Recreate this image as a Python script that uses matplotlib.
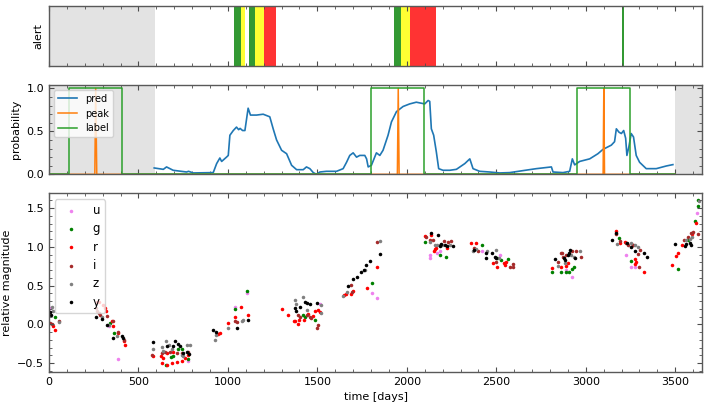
import numpy as np
import matplotlib
matplotlib.use("Agg")
import matplotlib.pyplot as plt
from matplotlib.ticker import MultipleLocator

# ---- data ----
# alert bands (days)
alert_start = [1035, 1075, 1116, 1153, 1204, 1931, 1968, 2019, 3204]
alert_end = [1075, 1095, 1153, 1204, 1267, 1968, 2019, 2161, 3211]
alert_color = ["green", "yellow", "green", "yellow", "red", "green", "yellow", "red", "green"]

# masked (training) ranges
mask_top = [(0, 592)]
mask_mid = [(0, 592), (3500, 3650)]

# classifier output
pred_t = [588, 639, 657, 694, 769, 780, 806, 918, 937, 955, 965, 992, 1002, 1011, 1030, 1048,
          1060, 1068, 1082, 1095, 1113, 1126, 1160, 1197, 1234, 1253, 1272, 1300, 1328, 1356,
          1384, 1421, 1439, 1458, 1477, 1495, 1514, 1551, 1607, 1644, 1663, 1681, 1700, 1719,
          1737, 1765, 1775, 1784, 1802, 1830, 1849, 1867, 1895, 1914, 1942, 1979, 2016, 2053,
          2100, 2119, 2128, 2137, 2150, 2165, 2178, 2202, 2240, 2277, 2324, 2352, 2370, 2407,
          2463, 2519, 2575, 2649, 2724, 2808, 2817, 2873, 2910, 2925, 2938, 2966, 3022, 3068,
          3096, 3143, 3161, 3171, 3186, 3199, 3212, 3223, 3230, 3241, 3254, 3267, 3282, 3301,
          3338, 3394, 3450, 3487]
pred_v = [0.074, 0.058, 0.086, 0.047, 0.027, 0.035, 0.016, 0.02, 0.125, 0.19, 0.15, 0.2, 0.22,
          0.455, 0.51, 0.55, 0.52, 0.535, 0.51, 0.51, 0.77, 0.69, 0.69, 0.70, 0.67, 0.53, 0.40,
          0.28, 0.24, 0.105, 0.054, 0.054, 0.086, 0.066, 0.02, 0.0, 0.027, 0.035, 0.035, 0.066,
          0.14, 0.22, 0.25, 0.2, 0.22, 0.22, 0.18, 0.086, 0.105, 0.25, 0.22, 0.28, 0.455, 0.61,
          0.73, 0.79, 0.82, 0.84, 0.82, 0.86, 0.85, 0.53, 0.455, 0.26, 0.066, 0.047, 0.047,
          0.058, 0.125, 0.18, 0.066, 0.035, 0.027, 0.016, 0.02, 0.043, 0.066, 0.086, 0.027,
          0.02, 0.035, 0.18, 0.11, 0.15, 0.18, 0.24, 0.29, 0.34, 0.38, 0.53, 0.49, 0.475, 0.51,
          0.42, 0.22, 0.32, 0.475, 0.435, 0.22, 0.14, 0.066, 0.066, 0.097, 0.113]

peak_t = [0, 256, 261, 267, 1947, 1952, 1957, 3097, 3101, 3105, 3500]
peak_v = [0, 0, 1, 0, 0, 1, 0, 0, 1, 0, 0]

label_t = [0, 112, 112, 410, 410, 1802, 1802, 2098, 2098, 2953, 2953, 3245, 3245, 3500]
label_v = [0, 0, 1, 1, 0, 0, 1, 1, 0, 0, 1, 1, 0, 0]

# light curve per band: (time, relative magnitude)
u_pts = [(6, 0.21), (337, -0.026), (387, -0.44), (775, -0.47), (1039, 0.23), (1104, 0.40),
         (1517, 0.265), (1806, 0.40), (1834, 0.34), (2132, 0.90), (2128, 0.85), (2169, 0.92),
         (2188, 0.94), (2420, 0.94), (2519, 0.90), (2891, 0.70), (2923, 0.61), (3223, 0.90),
         (3251, 0.745), (3278, 0.745), (3621, 1.43)]
g_pts = [(34, 0.09), (341, 0.017), (365, -0.11), (652, -0.52), (681, -0.42), (694, -0.41),
         (722, -0.32), (745, -0.32), (778, -0.45), (1039, 0.20), (1104, 0.43), (1420, 0.12),
         (1430, 0.09), (1485, 0.06), (1806, 0.54), (2100, 1.056), (2188, 0.89), (2217, 0.87),
         (2420, 1.03), (2504, 0.86), (2529, 0.83), (2565, 0.84), (2811, 0.68), (2864, 0.67),
         (2888, 0.67), (2904, 0.68), (2925, 0.72), (2933, 0.735), (3186, 1.11), (3251, 0.82),
         (3515, 0.72), (3571, 1.085), (3608, 1.33), (3627, 1.53), (3627, 1.60)]
r_pts = [(20, -0.02), (34, -0.07), (266, 0.295), (277, 0.29), (303, 0.25), (313, 0.21),
         (318, 0.17), (350, 0.04), (359, -0.026), (384, -0.11), (419, -0.22), (424, -0.26),
         (583, -0.41), (626, -0.41), (639, -0.43), (633, -0.50), (657, -0.52), (685, -0.50),
         (713, -0.49), (741, -0.47), (760, -0.43), (775, -0.39), (694, -0.35), (657, -0.37),
         (946, -0.12), (955, -0.11), (1002, 0.017), (1039, 0.10), (1072, 0.23), (1113, 0.12),
         (1300, 0.20), (1337, 0.12), (1368, 0.05), (1376, 0.05), (1392, 0.01), (1398, 0.06),
         (1424, 0.06), (1448, 0.136), (1473, 0.11), (1485, 0.17), (1504, 0.18), (1513, 0.155),
         (1650, 0.38), (1659, 0.39), (1687, 0.39), (1700, 0.435), (1778, 0.47), (1834, 0.74),
         (2100, 1.14), (2137, 1.15), (2156, 0.97), (2150, 0.94), (2161, 0.99), (2225, 0.98),
         (2361, 1.05), (2385, 1.05), (2482, 0.795), (2504, 0.735), (2547, 0.765), (2556, 0.81),
         (2541, 0.795), (2811, 0.73), (2864, 0.74), (2891, 0.75), (2900, 0.79), (3167, 1.20),
         (3193, 1.05), (3217, 1.065), (3263, 1.02), (3273, 0.84), (3282, 0.81), (3278, 0.78),
         (3325, 0.68), (3483, 0.765), (3505, 0.885), (3515, 0.915), (3540, 1.03), (3595, 1.17),
         (3618, 1.31)]
i_pts = [(6, 0.017), (15, 0.01), (56, 0.047), (263, 0.21), (266, 0.17), (279, 0.145),
         (285, 0.115), (326, 0.11), (356, 0.047), (387, -0.10), (421, -0.20), (573, -0.40),
         (629, -0.37), (676, -0.35), (713, -0.37), (741, -0.37), (778, -0.35), (648, -0.36),
         (1039, 0.05), (1048, 0.03), (1389, 0.124), (1402, 0.10), (1440, 0.124), (1458, 0.10),
         (1467, 0.08), (1504, -0.004), (1498, -0.047), (1687, 0.51), (1691, 0.42), (1834, 1.056),
         (2109, 1.13), (2128, 1.09), (2146, 1.085), (2206, 1.08), (2230, 1.065), (2249, 1.07),
         (2376, 0.98), (2398, 0.94), (2500, 0.81), (2575, 0.735), (2594, 0.78), (2594, 0.745),
         (2845, 0.81), (2860, 0.915), (2869, 0.92), (2891, 0.89), (2925, 0.94), (2943, 0.945),
         (2972, 0.87), (2873, 0.87), (3167, 1.17), (3189, 1.08), (3226, 1.05), (3236, 1.03),
         (3263, 1.02), (3297, 0.745), (3291, 0.905), (3304, 0.955), (3549, 1.09), (3571, 1.13),
         (3589, 1.18), (3598, 1.19), (3627, 1.17)]
z_pts = [(15, 0.22), (24, 0.17), (56, 0.03), (294, 0.10), (335, -0.004), (382, -0.15),
         (583, -0.32), (653, -0.22), (670, -0.27), (769, -0.27), (788, -0.26), (629, -0.29),
         (639, -0.34), (741, -0.39), (750, -0.41), (685, -0.32), (936, -0.14), (927, -0.205),
         (1002, -0.047), (1076, 0.05), (1082, 0.06), (1374, 0.31), (1383, 0.265), (1417, 0.35),
         (1443, 0.19), (1523, 0.25), (1523, 0.145), (1644, 0.36), (1663, 0.42), (1765, 0.70),
         (1849, 1.07), (2128, 1.06), (2156, 1.02), (2184, 1.02), (2199, 1.03), (2243, 1.03),
         (2169, 1.03), (2370, 0.94), (2389, 0.97), (2450, 0.94), (2497, 0.96), (2515, 0.85),
         (2845, 0.75), (2882, 0.79), (2920, 0.89), (2933, 0.87), (2970, 0.945), (3175, 1.04),
         (3254, 1.05), (3273, 1.02), (3291, 1.0), (3561, 1.09), (3584, 1.10), (3595, 1.13),
         (3631, 1.59)]
y_pts = [(6, 0.16), (9, 0.12), (263, 0.09), (294, 0.07), (326, -0.004), (359, -0.175),
         (406, -0.15), (415, -0.175), (583, -0.23), (657, -0.28), (707, -0.21), (722, -0.25),
         (732, -0.28), (694, -0.28), (750, -0.37), (769, -0.35), (782, -0.38), (918, -0.077),
         (933, -0.10), (1052, -0.047), (1113, 0.06), (1374, 0.21), (1402, 0.22), (1380, 0.17),
         (1430, 0.29), (1443, 0.28), (1458, 0.26), (1498, 0.27), (1672, 0.49), (1700, 0.59),
         (1722, 0.61), (1743, 0.68), (1759, 0.70), (1769, 0.76), (1793, 0.82), (1849, 0.91),
         (2137, 1.18), (2174, 1.15), (2193, 1.04), (2212, 1.02), (2225, 1.01), (2258, 1.01),
         (2184, 1.01), (2376, 0.96), (2444, 0.915), (2441, 0.86), (2478, 0.915), (2491, 0.87),
         (2500, 0.86), (2826, 0.84), (2876, 0.85), (2882, 0.83), (2900, 0.90), (2913, 0.965),
         (2906, 0.92), (2939, 0.85), (3147, 1.094), (3171, 1.18), (3230, 1.05), (3254, 1.0),
         (3273, 0.95), (3323, 0.92), (3340, 0.87), (3500, 1.04), (3552, 1.01), (3561, 1.04),
         (3580, 1.05), (3589, 1.02)]

bands = ["u", "g", "r", "i", "z", "y"]
band_pts = [u_pts, g_pts, r_pts, i_pts, z_pts, y_pts]
band_colors = ["violet", "green", "red", "brown", "grey", "black"]

plt.rcParams["font.family"] = ["DejaVu Sans"]
plt.rcParams["font.size"] = 8

fig = plt.figure(figsize=(7.06, 4.07), dpi=100)
left, width = 0.0694, 0.925
ax1 = fig.add_axes([left, 0.837, width, 0.149])
ax2 = fig.add_axes([left, 0.5717, width, 0.2194], sharex=ax1)
ax3 = fig.add_axes([left, 0.0867, width, 0.4383], sharex=ax1)


def style(ax):
    ax.tick_params(which="both", direction="in", top=True, right=True, color="0.3")
    ax.tick_params(which="major", length=3.6, width=0.8)
    ax.tick_params(which="minor", length=2, width=0.6)
    for s in ax.spines.values():
        s.set_color("0.35")
        s.set_linewidth(1.0)
    ax.xaxis.set_major_locator(MultipleLocator(500))
    ax.xaxis.set_minor_locator(MultipleLocator(100))


# alert panel
for a, b in mask_top:
    ax1.axvspan(a, b, color="#e3e3e3", lw=0)
for a, b, c in zip(alert_start, alert_end, alert_color):
    ax1.axvspan(a, b, color=c, alpha=0.8, lw=0)
ax1.set_yticks([])
ax1.set_ylabel("alert")
style(ax1)
ax1.tick_params(labelbottom=False)

# probability panel
for a, b in mask_mid:
    ax2.axvspan(a, b, color="#e3e3e3", lw=0)
ax2.plot(pred_t, pred_v, color="tab:blue", lw=1.2, label="pred")
ax2.plot(peak_t, peak_v, color="tab:orange", lw=1.1, label="peak")
ax2.plot(label_t, label_v, color="tab:green", lw=1.1, label="label")
ax2.set_ylim(0, 1.04)
ax2.yaxis.set_major_locator(MultipleLocator(0.5))
ax2.yaxis.set_minor_locator(MultipleLocator(0.1))
ax2.set_ylabel("probability")
ax2.legend(loc="upper left", fontsize=7)
style(ax2)
ax2.tick_params(labelbottom=False)

# light curve panel
for name, pts, c in zip(bands, band_pts, band_colors):
    t = [p[0] for p in pts]
    m = [p[1] for p in pts]
    ax3.scatter(t, m, s=6.5, color=c, label=name, lw=0)
ax3.set_ylim(-0.61, 1.69)
ax3.yaxis.set_major_locator(MultipleLocator(0.5))
ax3.yaxis.set_minor_locator(MultipleLocator(0.1))
ax3.set_xlim(0, 3650)
ax3.set_xlabel("time [days]")
ax3.set_ylabel("relative magnitude")
ax3.legend(loc="upper left", fontsize=8.5, labelspacing=0.45)
style(ax3)

fig.savefig("out.png", dpi=100)
